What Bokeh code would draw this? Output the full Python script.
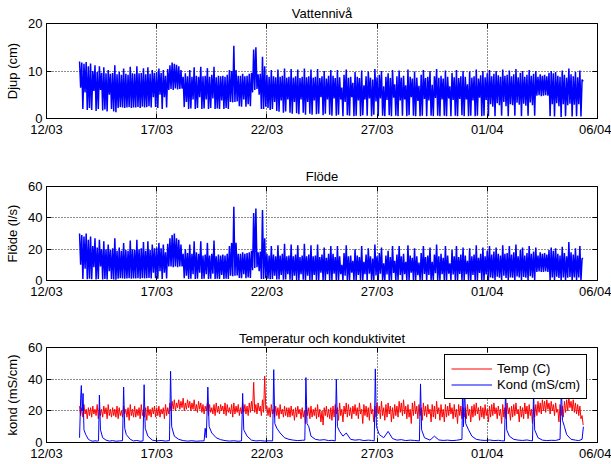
import numpy as np
from bokeh.plotting import figure
from bokeh.models import Range1d, FixedTicker, Legend, LegendItem, LinearAxis
from bokeh.layouts import column
from bokeh.embed import file_html
from bokeh.resources import INLINE

FONT = "Liberation Sans"

# x axis: days after 12/03 00:00
tick_days = [0, 5, 10, 15, 20, 25]
tick_labels = ["12/03", "17/03", "22/03", "27/03", "01/04", "06/04"]

start_day = 1.5
step = 0.1

# Vattennivå (cm): upper / lower value of each 0.1-day sample pair
level_hi = [
    12.0, 11.8, 11.5, 11.9, 11.0,
    11.6, 10.0, 11.2, 9.8, 11.0, 9.6, 10.8, 9.5, 10.2, 9.4,
    9.6, 11.2, 9.3, 9.8, 9.2, 10.5, 9.4, 9.2, 10.9, 9.5,
    9.4, 11.0, 9.5, 9.6, 10.6, 9.3, 10.8, 9.4, 10.2, 9.6,
    9.8, 10.5, 9.6, 10.2, 9.0, 10.4, 11.2, 11.8, 11.5, 11.3,
    11.0, 10.2, 8.8, 9.5, 8.9, 10.2, 8.8, 10.8, 9.0, 8.8,
    10.9, 8.9, 9.0, 10.6, 8.8, 9.2, 10.9, 8.7, 9.0, 8.9,
    9.0, 8.8, 9.2, 10.2, 10.0, 15.3, 10.2, 9.0, 9.0, 9.4,
    8.9, 9.0, 9.4, 9.6, 14.5, 15.0, 9.3, 9.4, 13.0, 11.0,
    9.2, 8.8, 10.2, 8.9, 8.7, 10.3, 8.8, 9.0, 10.5, 8.6,
    8.8, 10.4, 8.6, 8.9, 10.3, 8.5, 8.8, 10.5, 8.7, 8.9,
    10.3, 8.6, 8.8, 10.4, 8.5, 8.9, 10.0, 8.4, 9.0, 10.2,
    9.0, 8.5, 10.2, 8.7, 6.5, 9.2, 10.3, 8.6, 8.8, 7.5,
    9.8, 8.8, 8.5, 10.1, 7.0, 8.9, 9.9, 8.6, 8.2, 10.4,
    8.7, 9.2, 10.0, 6.8, 8.8, 9.5, 8.5, 10.2, 7.2, 8.9,
    10.1, 8.6, 9.0, 7.0, 10.3, 8.8, 8.4, 9.9, 8.6, 6.9,
    9.2, 10.2, 8.5, 8.8, 10.0, 7.1, 8.9, 10.4, 8.6, 9.0,
    8.4, 10.1, 8.8, 6.8, 9.6, 8.7, 10.2, 8.5, 8.9, 10.0,
    8.8, 7.2, 9.9, 8.6, 8.9, 10.3, 8.4, 9.1, 10.0, 8.7,
    9.5, 10.2, 8.9, 9.4, 10.0, 9.1, 8.8, 10.3, 9.0, 9.2,
    10.1, 8.9, 9.3, 10.4, 8.7, 9.6, 10.0, 8.8, 9.2, 10.2,
    9.0, 9.4, 10.0, 8.8, 9.3, 9.0, 9.2, 8.9, 9.6, 10.0,
    9.5, 9.8, 9.0, 8.8, 10.1, 9.2, 8.6, 10.5, 9.3, 8.9,
    9.8, 8.7, 10.1, 8.2,
]
level_lo = [
    6.5, 2.0, 5.5, 1.8, 2.2,
    1.8, 5.8, 1.6, 2.0, 6.0, 1.7, 1.9, 1.5, 5.0, 2.0,
    1.5, 1.3, 2.2, 2.4, 2.3, 2.2, 2.3, 2.4, 2.2, 2.3,
    2.3, 2.4, 2.2, 2.5, 2.3, 2.4, 2.6, 2.3, 4.5, 2.4,
    2.2, 5.0, 2.0, 4.5, 2.3, 6.0, 6.2, 6.0, 6.3, 6.1,
    6.2, 6.3, 2.4, 3.5, 2.0, 2.1, 4.0, 2.0, 2.2, 4.5,
    2.0, 2.1, 4.0, 2.0, 2.2, 4.2, 2.0, 2.1, 2.0, 3.8,
    2.0, 2.2, 2.0, 3.5, 3.4, 3.5, 3.6, 2.6, 2.5, 4.0,
    2.5, 3.0, 2.6, 5.5, 6.0, 6.2, 5.0, 2.0, 2.0, 2.5,
    2.2, 1.8, 2.0, 3.5, 1.6, 1.4, 3.8, 1.2, 1.5, 4.0,
    1.2, 1.0, 3.5, 1.1, 0.9, 4.0, 1.2, 0.8, 3.5, 1.0,
    0.8, 3.8, 0.9, 1.0, 4.5, 0.7, 1.0, 4.0, 0.8, 0.6,
    4.2, 0.6, 0.8, 4.0, 0.5, 3.5, 0.7, 0.6, 4.5, 0.5,
    0.6, 3.8, 0.5, 0.7, 4.0, 0.6, 4.2, 0.5, 0.8, 3.6,
    0.5, 4.2, 0.6, 0.5, 3.9, 0.7, 0.5, 4.4, 0.6, 0.5,
    3.8, 0.6, 4.0, 0.5, 0.7, 4.5, 0.6, 0.5, 3.7, 0.5,
    0.6, 4.1, 0.5, 3.8, 0.6, 0.5, 4.3, 0.6, 0.5, 4.0,
    0.6, 0.5, 4.2, 0.5, 3.9, 0.6, 0.5, 4.1, 0.7, 0.5,
    4.0, 0.5, 0.6, 3.8, 0.5, 0.6, 4.4, 0.5, 0.6, 3.9,
    0.5, 3.0, 2.5, 0.5, 3.2, 2.8, 0.6, 3.5, 2.6, 0.5,
    3.0, 2.8, 0.6, 3.3, 2.9, 0.5, 3.1, 2.7, 0.6, 3.4,
    2.8, 0.6, 4.8, 4.9, 4.7, 4.8, 4.9, 4.8, 0.5, 3.0,
    0.4, 3.2, 2.6, 0.3, 3.0, 0.5, 2.8, 3.1, 0.4, 2.9,
    0.5, 3.0, 0.4, 7.8,
]

# Flöde (l/s)
flow_hi = [
    30, 29, 28, 30, 26,
    28, 22, 27, 21, 26, 20, 25, 20, 23, 19.5,
    20.5, 27, 19, 21, 19, 24, 19.5, 19, 25.5, 20,
    19.5, 26, 20, 20.5, 24.5, 19, 25, 19.5, 23, 20.5,
    21, 24, 20.5, 23, 18, 23.5, 27, 29, 30, 27,
    26, 23, 17, 20, 17.5, 23, 17, 25, 18, 17,
    25, 16, 16.5, 24, 16, 17, 25.5, 15.5, 16.5, 16,
    16.5, 16, 17, 22, 24, 47, 24, 17, 17, 18,
    17, 17.5, 18, 19, 43, 46, 18, 18.5, 45, 27,
    17, 16, 22, 16.5, 15.5, 22.5, 16, 17, 23.5, 15.5,
    16, 23, 15.5, 16.5, 22.5, 15, 16, 23.5, 15.5, 16.5,
    22.5, 15.5, 16, 23, 15, 16.5, 21, 14.5, 17, 22,
    17, 15, 22, 15.5, 10, 17.5, 22.5, 15.5, 16, 12.5,
    20, 16, 15, 22, 12, 16.5, 20.5, 15.5, 14, 23,
    15.5, 17.5, 21, 11, 16, 19, 15, 22, 12.5, 16.5,
    22, 15.5, 17, 12, 22.5, 16, 14.5, 20.5, 15.5, 11.5,
    17.5, 22, 15, 16, 21, 12, 16.5, 23, 15.5, 17,
    14.5, 22, 16, 11, 19.5, 15.5, 22, 15, 16.5, 21,
    16, 12.5, 20.5, 15.5, 16.5, 22.5, 14.5, 17, 21, 15.5,
    19, 22, 16.5, 18.5, 21, 17, 16, 22.5, 17, 17.5,
    22, 16.5, 18, 23, 15.5, 19.5, 21, 16, 17.5, 22,
    17, 18.5, 21, 16, 18, 17, 17.5, 16.5, 19.5, 21,
    19, 20.5, 17, 16, 21.5, 17.5, 15.5, 24.5, 18, 16.5,
    20.5, 16, 22, 14,
]
flow_lo = [
    10, 1, 7.5, 0.8, 1.2,
    0.8, 8.5, 0.7, 1, 9, 0.7, 0.9, 0.6, 6, 1,
    0.6, 0.5, 1.2, 1.4, 1.3, 1.2, 1.3, 1.4, 1.2, 1.3,
    1.3, 1.4, 1.2, 1.5, 1.3, 1.4, 1.6, 1.3, 5, 1.4,
    1.2, 6, 1, 5, 1.3, 9, 9, 8.5, 9, 8.5,
    9, 9, 1.4, 3, 1, 1.1, 4, 1, 1.2, 5,
    1, 1.1, 4, 1, 1.2, 4.4, 1, 1.1, 1, 3.6,
    1, 1.2, 1, 3, 2.8, 3, 3.2, 1.6, 1.5, 4,
    1.5, 2, 1.6, 6.5, 8, 8.5, 6, 1, 1, 1.5,
    1.2, 0.8, 1, 3, 0.7, 0.6, 3.6, 0.5, 0.6, 4,
    0.5, 0.3, 3, 0.4, 0.2, 4, 0.5, 0.1, 3, 0.3,
    0.1, 3.6, 0.2, 0.3, 5, 0, 0.3, 4, 0.1, 0,
    4.4, 0, 0.1, 4, 0, 3, 0, 0, 5, 0,
    0, 3.6, 0, 0, 4, 0, 4.4, 0, 0.1, 3.2,
    0, 4.4, 0, 0, 3.8, 0, 0, 4.8, 0, 0,
    3.6, 0, 4, 0, 0, 5, 0, 0, 3.4, 0,
    0, 4.2, 0, 3.6, 0, 0, 4.6, 0, 0, 4,
    0, 0, 4.4, 0, 3.8, 0, 0, 4.2, 0, 0,
    4, 0, 0, 3.6, 0, 0, 4.8, 0, 0, 3.8,
    0, 2, 1.5, 0, 2.4, 1.8, 0, 3, 1.6, 0,
    2, 1.8, 0, 2.6, 1.9, 0, 2.2, 1.7, 0, 2.8,
    1.8, 0, 5.5, 5.8, 5.4, 5.5, 5.8, 5.5, 0, 2,
    0, 2.4, 1.6, 0, 2, 0, 1.8, 2.2, 0, 1.9,
    0, 2, 0, 14,
]

# Temperatur (C): upper / lower value of each 0.1-day sample pair
temp_hi = [
    23, 22, 24, 21, 22,
    22, 23, 21, 24, 22, 21, 23, 22, 24, 21,
    22, 21, 23, 22, 20, 23, 21, 22, 24, 21,
    23, 21, 22, 24, 21, 22, 23, 21, 22, 23,
    22, 23, 21, 22, 24, 22, 25, 26, 27, 25,
    27, 26, 28, 25, 27, 26, 25, 27, 24, 26,
    25, 24, 23, 25, 24, 22, 24, 25, 23, 24,
    23, 25, 24, 22, 24, 25, 23, 24, 22, 25,
    24, 23, 25, 26, 38, 24, 25, 23, 27, 42,
    23, 22, 24, 21, 23, 22, 24, 21, 23, 22,
    22, 23, 21, 22, 23, 21, 22, 20, 23, 22,
    23, 21, 22, 24, 21, 20, 22, 23, 21, 22,
    23, 24, 22, 25, 21, 23, 25, 24, 22, 23,
    24, 22, 25, 21, 24, 23, 22, 25, 21, 23,
    25, 23, 26, 22, 24, 25, 23, 22, 24, 23,
    26, 25, 27, 23, 24, 21, 25, 26, 23, 24,
    22, 25, 23, 24, 21, 24, 23, 26, 22, 24,
    21, 24, 23, 25, 22, 24, 21, 24, 23, 22,
    22, 24, 21, 23, 24, 25, 22, 23, 22, 24,
    21, 23, 24, 25, 22, 23, 21, 24, 22, 25,
    22, 23, 24, 25, 21, 23, 22, 25, 23, 24,
    21, 23, 24, 26, 25, 27, 26, 27, 25, 26,
    24, 25, 21, 24, 23, 26, 27, 29, 26, 27,
    25, 24, 23, 17,
]
temp_lo = [
    17, 16, 18, 15, 17,
    16, 18, 17, 15, 17, 16, 18, 15, 17, 16,
    17, 16, 15, 17, 16, 18, 16, 14, 17, 16,
    16, 17, 15, 17, 16, 14, 17, 16, 18, 16,
    17, 16, 18, 15, 17, 18, 20, 21, 20, 22,
    21, 22, 20, 21, 22, 20, 21, 20, 19, 21,
    19, 18, 20, 17, 19, 18, 17, 19, 18, 20,
    18, 17, 19, 18, 16, 18, 19, 17, 18, 19,
    18, 17, 19, 20, 19, 18, 20, 17, 19, 21,
    17, 16, 18, 16, 17, 15, 18, 16, 17, 16,
    16, 17, 14, 16, 18, 15, 16, 12, 17, 15,
    16, 17, 15, 16, 13, 11, 17, 16, 15, 14,
    16, 18, 14, 17, 13, 18, 16, 17, 15, 18,
    17, 15, 18, 12, 17, 16, 14, 18, 13, 16,
    18, 15, 17, 14, 16, 18, 13, 15, 17, 16,
    19, 17, 18, 15, 16, 12, 17, 18, 15, 17,
    14, 17, 16, 18, 13, 16, 15, 18, 14, 16,
    13, 16, 17, 18, 15, 16, 12, 17, 15, 16,
    15, 17, 13, 16, 17, 18, 14, 16, 15, 17,
    13, 16, 17, 18, 15, 17, 12, 16, 15, 18,
    14, 16, 17, 18, 13, 16, 15, 18, 15, 17,
    12, 16, 17, 19, 18, 20, 19, 21, 18, 20,
    17, 19, 13, 17, 16, 19, 20, 22, 20, 19,
    18, 17, 15, 11,
]

# Konduktivitet (mS/cm): (day, value)
kond_pts = [
    (1.50, 3), (1.55, 28), (1.58, 36), (1.62, 20), (1.66, 31), (1.70, 8), (1.78, 5), (1.90, 2),
    (2.00, 1.2), (2.10, 0.8), (2.20, 1.1), (2.30, 0.9), (2.36, 1.0), (2.40, 30), (2.45, 8), (2.55, 3),
    (2.70, 1.5), (2.85, 0.9), (3.00, 1.2), (3.15, 0.8), (3.30, 1.0), (3.45, 1.1), (3.50, 35), (3.55, 9),
    (3.62, 5), (3.80, 2), (3.95, 1.0), (4.10, 1.3), (4.25, 0.8), (4.38, 1.0), (4.43, 36.5), (4.48, 9),
    (4.60, 4), (4.80, 1.5), (5.00, 1.0), (5.20, 1.3), (5.40, 0.9), (5.58, 1.2), (5.63, 45), (5.68, 10),
    (5.80, 4), (6.00, 2), (6.20, 1.2), (6.40, 0.9), (6.60, 1.1), (6.80, 0.8), (7.00, 1.0), (7.15, 1.0),
    (7.20, 9), (7.25, 3), (7.32, 35), (7.38, 10), (7.50, 6), (7.70, 3), (7.90, 1.8), (8.10, 1.2),
    (8.30, 0.9), (8.50, 1.1), (8.70, 0.8), (8.85, 1.0), (8.90, 31), (8.95, 8), (9.10, 4), (9.30, 1.5),
    (9.50, 1.0), (9.70, 1.2), (9.90, 0.9), (10.10, 1.1), (10.26, 1.0), (10.31, 46), (10.36, 12), (10.45, 9),
    (10.60, 6), (10.80, 3), (11.00, 2), (11.20, 1.5), (11.40, 1.2), (11.60, 1.4), (11.72, 1.5), (11.77, 41),
    (11.82, 12), (11.90, 10), (12.00, 4), (12.20, 2), (12.40, 1.5), (12.60, 1.8), (12.80, 1.2), (12.95, 1.4),
    (13.10, 1.0), (13.15, 40), (13.20, 10), (13.30, 7), (13.45, 4), (13.60, 6), (13.80, 2), (14.00, 1.5),
    (14.20, 1.8), (14.40, 1.2), (14.60, 1.5), (14.75, 1.3), (14.87, 1.0), (14.92, 46.5), (14.97, 10), (15.10, 5),
    (15.30, 3), (15.50, 7), (15.70, 2.5), (15.90, 1.5), (16.10, 1.8), (16.30, 1.2), (16.50, 1.5), (16.70, 1.3),
    (16.92, 1.0), (16.97, 37), (17.02, 8), (17.15, 3), (17.40, 1.5), (17.60, 4), (17.80, 1.6), (18.00, 1.3),
    (18.20, 1.5), (18.40, 1.2), (18.60, 1.4), (18.85, 2), (18.88, 38), (18.92, 10), (18.97, 36), (19.02, 12),
    (19.15, 8), (19.30, 4), (19.50, 2), (19.70, 1.5), (19.90, 1.3), (20.10, 1.6), (20.30, 1.2), (20.50, 1.4),
    (20.65, 1.1), (20.78, 1.0), (20.83, 34), (20.88, 8), (21.00, 4), (21.20, 2), (21.40, 1.5), (21.60, 1.3),
    (21.80, 1.6), (21.95, 1.2), (22.05, 1.0), (22.10, 32), (22.15, 8), (22.30, 3), (22.50, 1.5), (22.70, 1.2),
    (22.90, 1.4), (23.10, 1.3), (23.30, 2), (23.36, 35), (23.41, 14), (23.50, 10), (23.60, 5), (23.80, 2),
    (24.00, 1.5), (24.15, 1.2), (24.30, 2), (24.36, 10),
]

n = len(level_hi)
t = np.round(start_day + step * np.arange(n), 3)


def zigzag(hi, lo):
    xs = np.empty(2 * n)
    ys = np.empty(2 * n)
    xs[0::2] = t
    xs[1::2] = t + step / 2
    ys[0::2] = hi
    ys[1::2] = lo
    return xs, ys


def mirror_axis(ticks):
    return LinearAxis(ticker=FixedTicker(ticks=ticks), major_tick_in=5, major_tick_out=0,
                      minor_tick_line_color=None, axis_line_color=None,
                      major_tick_line_color="black", major_label_text_font_size="0px",
                      major_label_standoff=0, major_label_text_alpha=0)


def make_fig(height, top, bottom, ymax, yticks, ylabel, title, standoff):
    p = figure(width=611, height=height, x_range=Range1d(0, 25), y_range=Range1d(0, ymax),
               output_backend="svg", toolbar_location=None,
               min_border_left=46, min_border_right=14,
               min_border_top=top, min_border_bottom=bottom)
    p.title.text = title
    p.title.align = "center"
    p.title.text_font = FONT
    p.title.text_font_size = "13px"
    p.title.text_font_style = "normal"
    p.title.text_color = "black"
    p.title.standoff = standoff
    p.xaxis.ticker = FixedTicker(ticks=tick_days)
    p.xaxis.major_label_overrides = {d: l for d, l in zip(tick_days, tick_labels)}
    p.yaxis.ticker = FixedTicker(ticks=yticks)
    p.yaxis.axis_label = ylabel
    for ax in (p.xaxis[0], p.yaxis[0]):
        ax.major_tick_in = 5
        ax.major_tick_out = 0
        ax.minor_tick_line_color = None
        ax.axis_line_color = "black"
        ax.major_tick_line_color = "black"
        ax.major_label_text_font = FONT
        ax.major_label_text_font_size = "13px"
        ax.major_label_text_color = "black"
        ax.major_label_standoff = 4
        ax.axis_label_text_font = FONT
        ax.axis_label_text_font_size = "13px"
        ax.axis_label_text_font_style = "normal"
        ax.axis_label_text_color = "black"
        ax.axis_label_standoff = 5
    p.xaxis[0].major_label_standoff = 3
    p.add_layout(mirror_axis(tick_days), "above")
    p.add_layout(mirror_axis(yticks), "right")
    for g in (p.xgrid[0], p.ygrid[0]):
        g.grid_line_color = "black"
        g.grid_line_dash = "1 2"
        g.grid_line_width = 1
        g.grid_line_alpha = 0.9
    p.outline_line_color = "black"
    p.outline_line_alpha = 1
    p.outline_line_width = 1
    p.background_fill_color = "white"
    p.border_fill_color = "white"
    return p


p1 = make_fig(160, 23, 42, 20, [0, 10, 20], "Djup (cm)", "Vattennivå", 5)
x1, y1 = zigzag(level_hi, level_lo)
p1.line(x1, y1, line_color="#0000FF", line_width=1.5)

p2 = make_fig(162, 26, 42, 60, [0, 20, 40, 60], "Flöde (l/s)", "Flöde", 5)
x2, y2 = zigzag(flow_hi, flow_lo)
p2.line(x2, y2, line_color="#0000FF", line_width=1.5)

p3 = make_fig(141, 25, 21, 60, [0, 20, 40, 60], "kond (mS/cm)", "Temperatur och konduktivitet", 3)
x3, y3 = zigzag(temp_hi, temp_lo)
r_temp = p3.line(x3, y3, line_color="#FF0000", line_width=1)
kd = [d for d, _ in kond_pts]
kv = [v for _, v in kond_pts]
r_kond = p3.line(kd, kv, line_color="#0000FF", line_width=1)

legend = Legend(items=[LegendItem(label="Temp (C)", renderers=[r_temp]),
                       LegendItem(label="Kond (mS/cm)", renderers=[r_kond])],
                location=(398, 43), orientation="vertical",
                label_text_font=FONT, label_text_font_size="13px", label_text_color="black",
                glyph_width=41, glyph_height=15, label_height=15, label_standoff=5,
                padding=6, spacing=1, margin=0,
                border_line_color="black", border_line_width=1, border_line_alpha=1,
                background_fill_color="white", background_fill_alpha=1)
p3.add_layout(legend)

layout = column(p1, p2, p3, spacing=0)

open("out.html", "w").write(file_html(layout, INLINE))
